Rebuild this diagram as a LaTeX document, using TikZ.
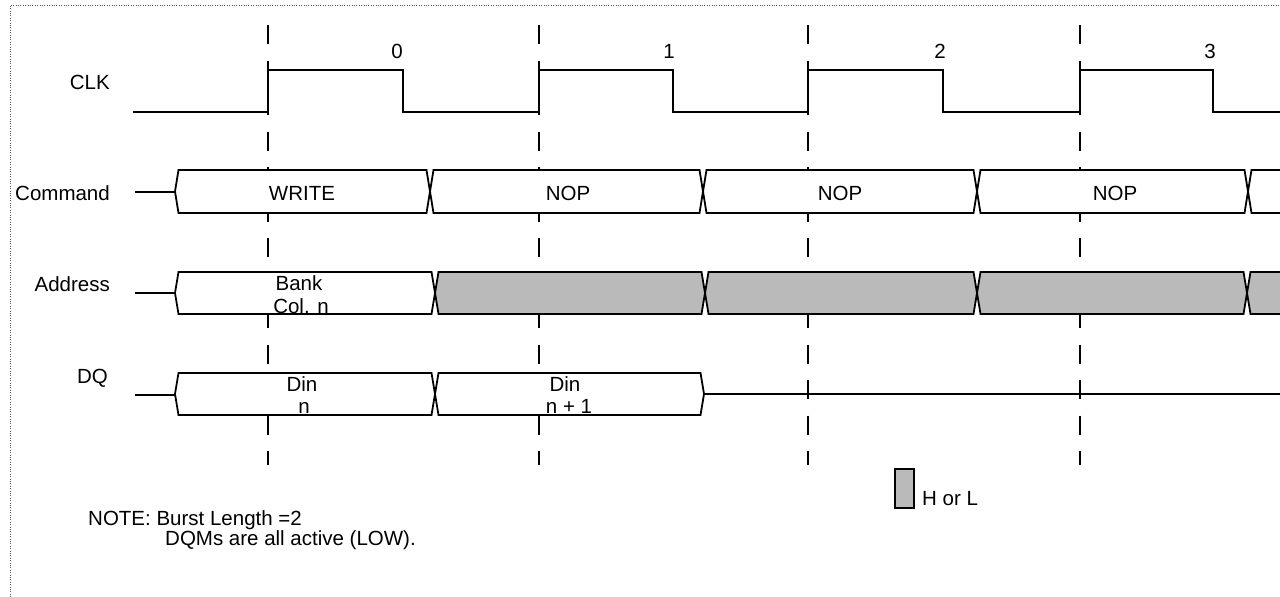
\documentclass[tikz,border=0pt]{standalone}
\usepackage{fontspec}
\setmainfont{Liberation Sans}
\begin{document}
\begin{tikzpicture}[x=1pt,y=-1pt,
  sig/.style={line width=1.8pt, line join=miter},
  clkline/.style={line width=1.8pt, line join=miter},
  bar/.style={line width=1.8pt, dash pattern=on 19pt off 16.5pt},
  frame/.style={line width=0.8pt, gray!70!black, dash pattern=on 0.8pt off 1.6pt},
  txt/.style={inner sep=0pt, font=\fontsize{20.5}{24}\selectfont},
  shade/.style={fill=black!27},
  blank/.style={fill=white}]
\clip (0,0) rectangle (1280,597);
\useasboundingbox (0,0) rectangle (1280,597);
\newcommand\busbox[5]{%
  \draw[sig,#5] (#1,{(#3+#4)/2}) -- ({#1+3.5},#3) -- ({#2-3.5},#3) -- (#2,{(#3+#4)/2}) -- ({#2-3.5},#4) -- ({#1+3.5},#4) -- cycle;}
% frame
\draw[frame] (10,597) -- (10,5) -- (1280,5);
% dashed clock-edge markers
\foreach \x in {268,539,808,1080} \draw[bar] (\x,25) -- (\x,465);
% clock
\draw[clkline] (133,112) -- (268,112) -- (268,70) -- (403,70) -- (403,112)
  -- (539,112) -- (539,70) -- (673,70) -- (673,112)
  -- (808,112) -- (808,70) -- (943,70) -- (943,112)
  -- (1080,112) -- (1080,70) -- (1213,70) -- (1213,112) -- (1285,112);
% lead lines
\draw[sig] (135,192) -- (175,192);
\draw[sig] (135,293) -- (175,293);
\draw[sig] (135,395) -- (175,395);
% command bus
\busbox{175}{430}{170}{213}{blank}
\busbox{430}{703}{170}{213}{blank}
\busbox{703}{977}{170}{213}{blank}
\busbox{977}{1248}{170}{213}{blank}
\busbox{1248}{1320}{170}{213}{blank}
% address bus
\busbox{175}{435}{272}{314}{blank}
\busbox{435}{705}{272}{314}{shade}
\busbox{705}{977}{272}{314}{shade}
\busbox{977}{1247}{272}{314}{shade}
\busbox{1247}{1320}{272}{314}{shade}
% DQ bus
\busbox{175}{435}{373}{415}{blank}
\busbox{435}{704}{373}{415}{blank}
\draw[sig] (704,394) -- (1285,394);
% signal names
\node[txt, anchor=base east] (clk) at (110,89) {CLK};
\node[txt, anchor=base east] (cmd) at (110,200) {Command};
\node[txt, anchor=base east] (addr) at (110,291) {Address};
\node[txt, anchor=base east] (dq) at (108,383) {DQ};
% clock numbers
\node[txt, anchor=base] (c0) at (397,58) {0};
\node[txt, anchor=base] (c1) at (669,58) {1};
\node[txt, anchor=base] (c2) at (940,58) {2};
\node[txt, anchor=base] (c3) at (1210,58) {3};
% command texts
\node[txt, anchor=base] (write) at (302,200) {WRITE};
\node[txt, anchor=base] (nop1) at (568,200) {NOP};
\node[txt, anchor=base] (nop2) at (840,200) {NOP};
\node[txt, anchor=base] (nop3) at (1115,200) {NOP};
% address texts
\node[txt, anchor=base] (bank) at (299,290) {Bank};
\node[txt, anchor=base] (col) at (301,313) {Col. n};
% DQ texts
\node[txt, anchor=base] (din0) at (302,391) {Din};
\node[txt, anchor=base] (n0) at (304,413) {n};
\node[txt, anchor=base] (din1) at (565,391) {Din};
\node[txt, anchor=base] (n1) at (569,413) {n + 1};
% legend
\draw[line width=1.8pt, shade] (895,469) rectangle (914,508);
\node[txt, anchor=base west] (hl) at (922,505) {H or L};
% note
\node[txt, anchor=base west] (note1) at (88,525) {NOTE: Burst Length =2};
\node[txt, anchor=base west] (note2) at (165,545) {DQMs are all active (LOW).};
\end{tikzpicture}
\end{document}
